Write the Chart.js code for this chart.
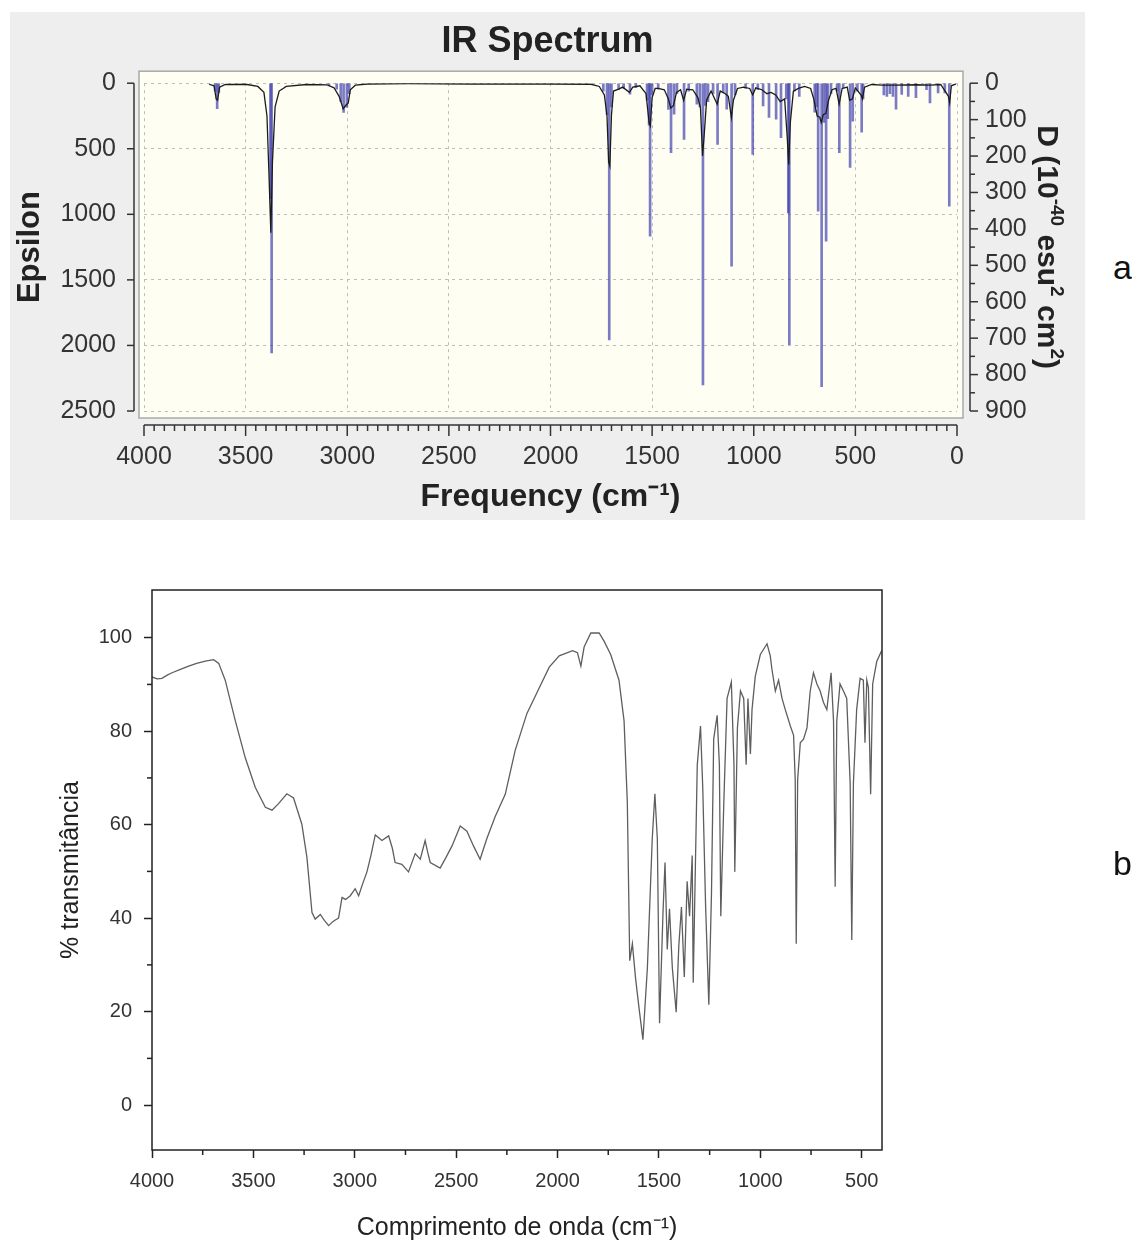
<!DOCTYPE html>
<html>
<head>
<meta charset="utf-8">
<script src="https://cdn.jsdelivr.net/npm/chart.js@4.4.1/dist/chart.umd.min.js"></script>
<style>
  body { margin: 0; background: #fff; width: 1132px; height: 1246px; position: relative; overflow: hidden; font-family: 'Liberation Sans', Arial, sans-serif; }
  #panel { position: absolute; left: 10px; top: 12px; width: 1075px; height: 508px; background: #eeeeee; }
  #topChart { position: absolute; left: 0; top: 0; }
  #botChart { position: absolute; left: 0; top: 530px; }
  .tag { position: absolute; font-size: 34px; line-height: 1; color: #111; }
</style>
</head>
<body>
<div id="panel"></div>
<canvas id="topChart" width="1095" height="530"></canvas>
<canvas id="botChart" width="1132" height="716"></canvas>
<div class="tag" style="left:1113px;top:250px">a</div>
<div class="tag" style="left:1113px;top:846px">b</div>
<script>
// calculated IR sticks (cm-1 / epsilon)
const stickFreq = [3650, 3640, 3632, 3378, 3372, 3090, 3052, 3032, 3018, 3002, 2990,
  1740, 1722, 1711, 1700, 1665, 1640, 1609, 1580, 1525, 1515, 1510, 1500, 1470,
  1420, 1407, 1392, 1378, 1343, 1320, 1280, 1265, 1250, 1238, 1225, 1200,
  1178, 1150, 1133, 1109, 1092, 1040, 1005, 980, 954, 925, 890, 866,
  840, 830, 825, 800, 776, 700, 690, 683, 666, 655, 644, 636, 620,
  590, 579, 560, 526, 513, 490, 469, 462,
  360, 345, 330, 315, 300, 272, 240, 202, 150, 133, 93, 60, 38];
const stickEps = [60, 194, 70, 880, 2057, 20, 45, 140, 222, 185, 80,
  60, 240, 1957, 180, 50, 40, 84, 35, 130, 320, 1167, 90, 45,
  200, 529, 237, 80, 428, 60, 160, 180, 2301, 170, 140, 80,
  466, 70, 199, 1396, 90, 40, 543, 50, 173, 261, 275, 415,
  120, 990, 1995, 60, 100, 220, 180, 976, 2314, 300, 1205, 270, 80,
  60, 529, 40, 643, 290, 60, 374, 120,
  90, 100, 80, 100, 199, 85, 100, 110, 50, 150, 75, 75, 938];

// broadened calculated spectrum
const calcFreq = [3680, 3655, 3645, 3638, 3628, 3600, 3500, 3440, 3410, 3395, 3385, 3376, 3368, 3355, 3335, 3300,
  3200, 3100, 3065, 3040, 3020, 3008, 2995, 2985, 2960, 2900, 2700, 2400, 2000, 1800, 1760, 1735,
  1722, 1714, 1708, 1700, 1690, 1665, 1645, 1612, 1595, 1560, 1530, 1515, 1509, 1500, 1485, 1470,
  1440, 1420, 1408, 1395, 1380, 1360, 1345, 1330, 1300, 1275, 1262, 1252, 1244, 1232, 1210, 1180,
  1165, 1140, 1125, 1110, 1100, 1080, 1050, 1020, 1005, 990, 960, 935, 915, 892, 870, 848,
  835, 828, 820, 805, 780, 750, 720, 705, 688, 675, 668, 658, 645, 632, 615, 595,
  580, 565, 540, 528, 515, 500, 472, 465, 455, 420, 370, 300, 200, 130, 80, 42, 36, 28, 5];
const calcEps = [8, 20, 120, 130, 30, 10, 8, 25, 70, 250, 700, 1140, 600, 180, 60, 25,
  10, 12, 35, 100, 195, 170, 150, 50, 15, 6, 4, 6, 6, 8, 25, 90,
  250, 600, 632, 240, 60, 45, 30, 70, 30, 20, 80, 300, 326, 110, 40, 40,
  50, 120, 190, 170, 70, 50, 130, 45, 50, 110, 190, 555, 400, 130, 60, 160,
  60, 80, 100, 261, 130, 40, 30, 40, 90, 35, 50, 80, 70, 90, 140, 120,
  420, 620, 300, 60, 40, 25, 40, 120, 250, 260, 300, 240, 230, 130, 50, 40,
  160, 40, 30, 130, 120, 35, 90, 120, 30, 10, 15, 15, 12, 15, 10, 100, 150, 20, 5];

// experimental FTIR spectrum
const expWave = [4000, 3975, 3951, 3925, 3901, 3860, 3819, 3780, 3737, 3696, 3671, 3639, 3589, 3540, 3491, 3441,
  3408, 3376, 3335, 3302, 3261, 3236, 3211, 3195, 3170, 3150, 3129, 3110, 3096, 3080, 3063, 3045,
  3022, 2998, 2981, 2960, 2940, 2920, 2899, 2866, 2833, 2815, 2801, 2768, 2735, 2702, 2677, 2653,
  2640, 2628, 2579, 2550, 2521, 2480, 2447, 2414, 2382, 2349, 2308, 2258, 2209, 2151, 2090, 2041,
  1992, 1926, 1902, 1885, 1869, 1836, 1795, 1770, 1738, 1697, 1672, 1656, 1644, 1631, 1615, 1598,
  1579, 1557, 1533, 1520, 1508, 1497, 1480, 1470, 1459, 1448, 1434, 1415, 1402, 1389, 1375, 1361,
  1349, 1336, 1331, 1311, 1295, 1284, 1270, 1254, 1241, 1230, 1213, 1202, 1195, 1180, 1164, 1143,
  1130, 1126, 1113, 1098, 1082, 1070, 1061, 1049, 1041, 1025, 1000, 967, 951, 943, 926, 910,
  893, 877, 852, 836, 828, 823, 816, 803, 787, 770, 754, 738, 721, 705, 689, 672,
  651, 639, 631, 623, 607, 590, 574, 557, 549, 541, 525, 508, 492, 484, 475, 467,
  456, 446, 426, 402];
const expTrans = [91.6, 91.2, 91.3, 92.0, 92.5, 93.2, 93.9, 94.5, 95.0, 95.3, 94.5, 90.9, 82.2, 74.3, 68.0, 63.7,
  63.1, 64.5, 66.6, 65.7, 60.1, 53.0, 41.2, 39.8, 40.8, 39.5, 38.4, 39.2, 39.6, 40.0, 44.4, 44.0,
  44.8, 46.3, 44.8, 47.5, 49.9, 53.5, 57.8, 56.6, 57.6, 55.0, 51.9, 51.5, 49.9, 53.8, 52.6, 56.6,
  54.0, 51.9, 50.7, 53.0, 55.4, 59.7, 58.6, 55.4, 52.6, 57.0, 61.7, 66.5, 75.9, 83.8, 89.3, 93.7,
  96.1, 97.2, 96.8, 93.9, 98.0, 101.0, 101.0, 99.2, 96.4, 90.9, 82.2, 64.9, 30.9, 34.5, 27.0, 20.7,
  14.0, 29.4, 57.0, 66.6, 57.0, 17.5, 41.2, 51.9, 33.3, 42.0, 29.4, 19.9, 34.1, 42.4, 27.4, 47.9,
  40.4, 53.4, 26.2, 72.8, 81.1, 68.0, 42.8, 21.5, 45.1, 78.3, 83.4, 72.8, 40.4, 64.9, 87.0, 90.5,
  72.8, 49.9, 80.7, 88.6, 87.0, 72.8, 87.0, 75.1, 84.6, 91.7, 96.4, 98.7, 96.1, 93.3, 88.6, 90.9,
  87.0, 84.6, 81.1, 79.1, 69.6, 34.5, 69.6, 77.5, 78.3, 80.7, 88.6, 92.5, 90.1, 88.6, 86.2, 84.6,
  92.5, 82.2, 46.7, 82.2, 90.1, 88.6, 87.0, 68.8, 35.3, 68.8, 84.6, 91.3, 90.9, 77.5, 90.9, 89.3,
  66.5, 90.1, 94.9, 97.2];

// tick labels of the measured spectrum
const expWaveTicks = [500, 1000, 1500, 2000, 2500, 3000, 3500, 4000];
const expTransTicks = [0, 20, 40, 60, 80, 100];

// right axis title pieces: [text, superscript?]
const dipoleTitle = [['D (10', false], ['-40', true], [' esu', false], ['2', true], [' cm', false], ['2', true], [')', false]];

const FONT = "'Liberation Sans', Arial, sans-serif";
Chart.defaults.font.family = FONT;
Chart.defaults.color = '#333';
const plain = v => String(v);

function tick(ctx, x1, y1, x2, y2) {
  ctx.beginPath();
  ctx.moveTo(x1, y1);
  ctx.lineTo(x2, y2);
  ctx.stroke();
}

// cream plot box + detached axes of the calculated spectrum
const topFrame = {
  id: 'topFrame',
  beforeDraw(chart) {
    const { ctx, chartArea: a } = chart;
    ctx.save();
    ctx.fillStyle = '#fefef3';
    ctx.fillRect(a.left - 5, a.top - 12, a.right - a.left + 11, a.bottom - a.top + 19);
    ctx.strokeStyle = '#a9a9a9';
    ctx.lineWidth = 1.5;
    ctx.strokeRect(a.left - 5, a.top - 12, a.right - a.left + 11, a.bottom - a.top + 19);
    ctx.restore();
  },
  afterDraw(chart) {
    const { ctx, chartArea: a, scales } = chart;
    const x = scales.x, y = scales.y, y2 = scales.y2;
    ctx.save();
    ctx.strokeStyle = '#333';
    ctx.lineWidth = 1.5;
    const ay = a.bottom + 14;
    tick(ctx, x.getPixelForValue(4000), ay, x.getPixelForValue(0), ay);
    for (let v = 0; v <= 4000; v += 50) {
      const px = x.getPixelForValue(v);
      tick(ctx, px, ay, px, ay + (v % 500 === 0 ? 11 : 6));
    }
    const lx = a.left - 10;
    tick(ctx, lx, y.getPixelForValue(0), lx, y.getPixelForValue(2500));
    for (let v = 0; v <= 2500; v += 500) {
      const py = y.getPixelForValue(v);
      tick(ctx, lx, py, lx - 7, py);
    }
    const rx = a.right + 13;
    tick(ctx, rx, y2.getPixelForValue(0), rx, y2.getPixelForValue(900));
    for (let v = 0; v <= 900; v += 50) {
      const py = y2.getPixelForValue(v);
      tick(ctx, rx, py, rx + (v % 100 === 0 ? 8 : 5), py);
    }

    // rotated right-hand title with real superscripts
    const big = 'bold 30px ' + FONT, small = 'bold 19px ' + FONT;
    let total = 0;
    dipoleTitle.forEach(([t, sup]) => { ctx.font = sup ? small : big; total += ctx.measureText(t).width; });
    ctx.translate(1046, (y2.top + y2.bottom) / 2);
    ctx.rotate(Math.PI / 2);
    ctx.fillStyle = '#222';
    ctx.textBaseline = 'middle';
    let cx = -total / 2;
    dipoleTitle.forEach(([t, sup]) => {
      ctx.font = sup ? small : big;
      ctx.fillText(t, cx, sup ? -10 : 0);
      cx += ctx.measureText(t).width;
    });
    ctx.restore();
  }
};

new Chart(document.getElementById('topChart'), {
  type: 'bar',
  data: {
    datasets: [
      {
        type: 'line',
        data: calcFreq.map((f, i) => ({ x: f, y: calcEps[i] })),
        borderColor: '#1b1b1b',
        borderWidth: 1.3,
        pointRadius: 0,
        yAxisID: 'y'
      },
      {
        data: stickFreq.map((f, i) => ({ x: f, y: stickEps[i] })),
        backgroundColor: 'rgba(55, 55, 170, 0.66)',
        barThickness: 2,
        yAxisID: 'y'
      }
    ]
  },
  options: {
    responsive: false,
    animation: false,
    devicePixelRatio: 1,
    layout: { padding: 0 },
    plugins: {
      legend: { display: false },
      tooltip: { enabled: false },
      title: {
        display: true,
        text: 'IR Spectrum',
        color: '#222',
        font: { size: 36, weight: 'bold' },
        padding: { top: 20, bottom: 20 }
      }
    },
    scales: {
      x: {
        type: 'linear',
        reverse: true,
        min: 0,
        max: 4000,
        offset: false,
        ticks: { stepSize: 500, font: { size: 25 }, padding: 31, maxRotation: 0, callback: plain },
        grid: { color: '#bdbdbd', drawTicks: false, offset: false },
        border: { display: false, dash: [3, 4] },
        title: { display: true, text: 'Frequency (cm⁻¹)', color: '#222', font: { size: 32, weight: 'bold' }, padding: { top: 0, bottom: 14 } },
        afterFit(s) { s.height = 119; }
      },
      y: {
        reverse: true,
        min: 0,
        max: 2500,
        ticks: { stepSize: 500, font: { size: 25 }, padding: 28, callback: plain },
        grid: { color: '#bdbdbd', drawTicks: false },
        border: { display: false, dash: [3, 4] },
        title: { display: true, text: 'Epsilon', color: '#222', font: { size: 31, weight: 'bold' }, padding: { top: 12, bottom: 0 } },
        afterFit(s) { s.width = 144; }
      },
      y2: {
        position: 'right',
        reverse: true,
        min: 0,
        max: 900,
        ticks: { stepSize: 100, font: { size: 25 }, padding: 28, callback: plain },
        grid: { drawOnChartArea: false, drawTicks: false },
        border: { display: false },
        afterFit(s) { s.width = 138; }
      }
    }
  },
  plugins: [topFrame]
});

// closed frame + minor ticks of the measured spectrum
const botFrame = {
  id: 'botFrame',
  afterDraw(chart) {
    const { ctx, chartArea: a, scales } = chart;
    ctx.save();
    ctx.strokeStyle = '#222';
    ctx.lineWidth = 1.5;
    ctx.strokeRect(a.left, a.top, a.right - a.left, a.bottom - a.top);
    for (let v = 750; v < 4000; v += 500) {
      const px = scales.x.getPixelForValue(v);
      tick(ctx, px, a.bottom, px, a.bottom + 5);
    }
    for (let v = 10; v < 110; v += 20) {
      const py = scales.y.getPixelForValue(v);
      tick(ctx, a.left, py, a.left - 5, py);
    }
    ctx.restore();
  }
};

new Chart(document.getElementById('botChart'), {
  type: 'line',
  data: {
    datasets: [{
      data: expWave.map((w, i) => ({ x: w, y: expTrans[i] })),
      borderColor: '#5e5e5e',
      borderWidth: 1.3,
      pointRadius: 0
    }]
  },
  options: {
    responsive: false,
    animation: false,
    devicePixelRatio: 1,
    layout: { padding: { top: 60, right: 250, left: 0, bottom: 0 } },
    plugins: { legend: { display: false }, tooltip: { enabled: false } },
    scales: {
      x: {
        type: 'linear',
        reverse: true,
        min: 400,
        max: 4000,
        afterBuildTicks(s) { s.ticks = expWaveTicks.map(v => ({ value: v })); },
        ticks: { font: { size: 20 }, padding: 11, maxRotation: 0, autoSkip: false, callback: plain },
        grid: { drawOnChartArea: false, tickLength: 8, tickColor: '#222', tickWidth: 1.5 },
        border: { display: false },
        title: { display: true, text: 'Comprimento de onda (cm⁻¹)', color: '#222', font: { size: 25 }, padding: { top: 0, bottom: 3 } },
        afterFit(s) { s.height = 96; }
      },
      y: {
        min: -9.6,
        max: 110.2,
        afterBuildTicks(s) { s.ticks = expTransTicks.map(v => ({ value: v })); },
        ticks: { font: { size: 20 }, padding: 12, autoSkip: false, callback: plain },
        grid: { drawOnChartArea: false, tickLength: 8, tickColor: '#222', tickWidth: 1.5 },
        border: { display: false },
        title: { display: true, text: '% transmitância', color: '#222', font: { size: 25 }, padding: { top: 56, bottom: 0 } },
        afterFit(s) { s.width = 152; }
      }
    }
  },
  plugins: [botFrame]
});
</script>
</body>
</html>
